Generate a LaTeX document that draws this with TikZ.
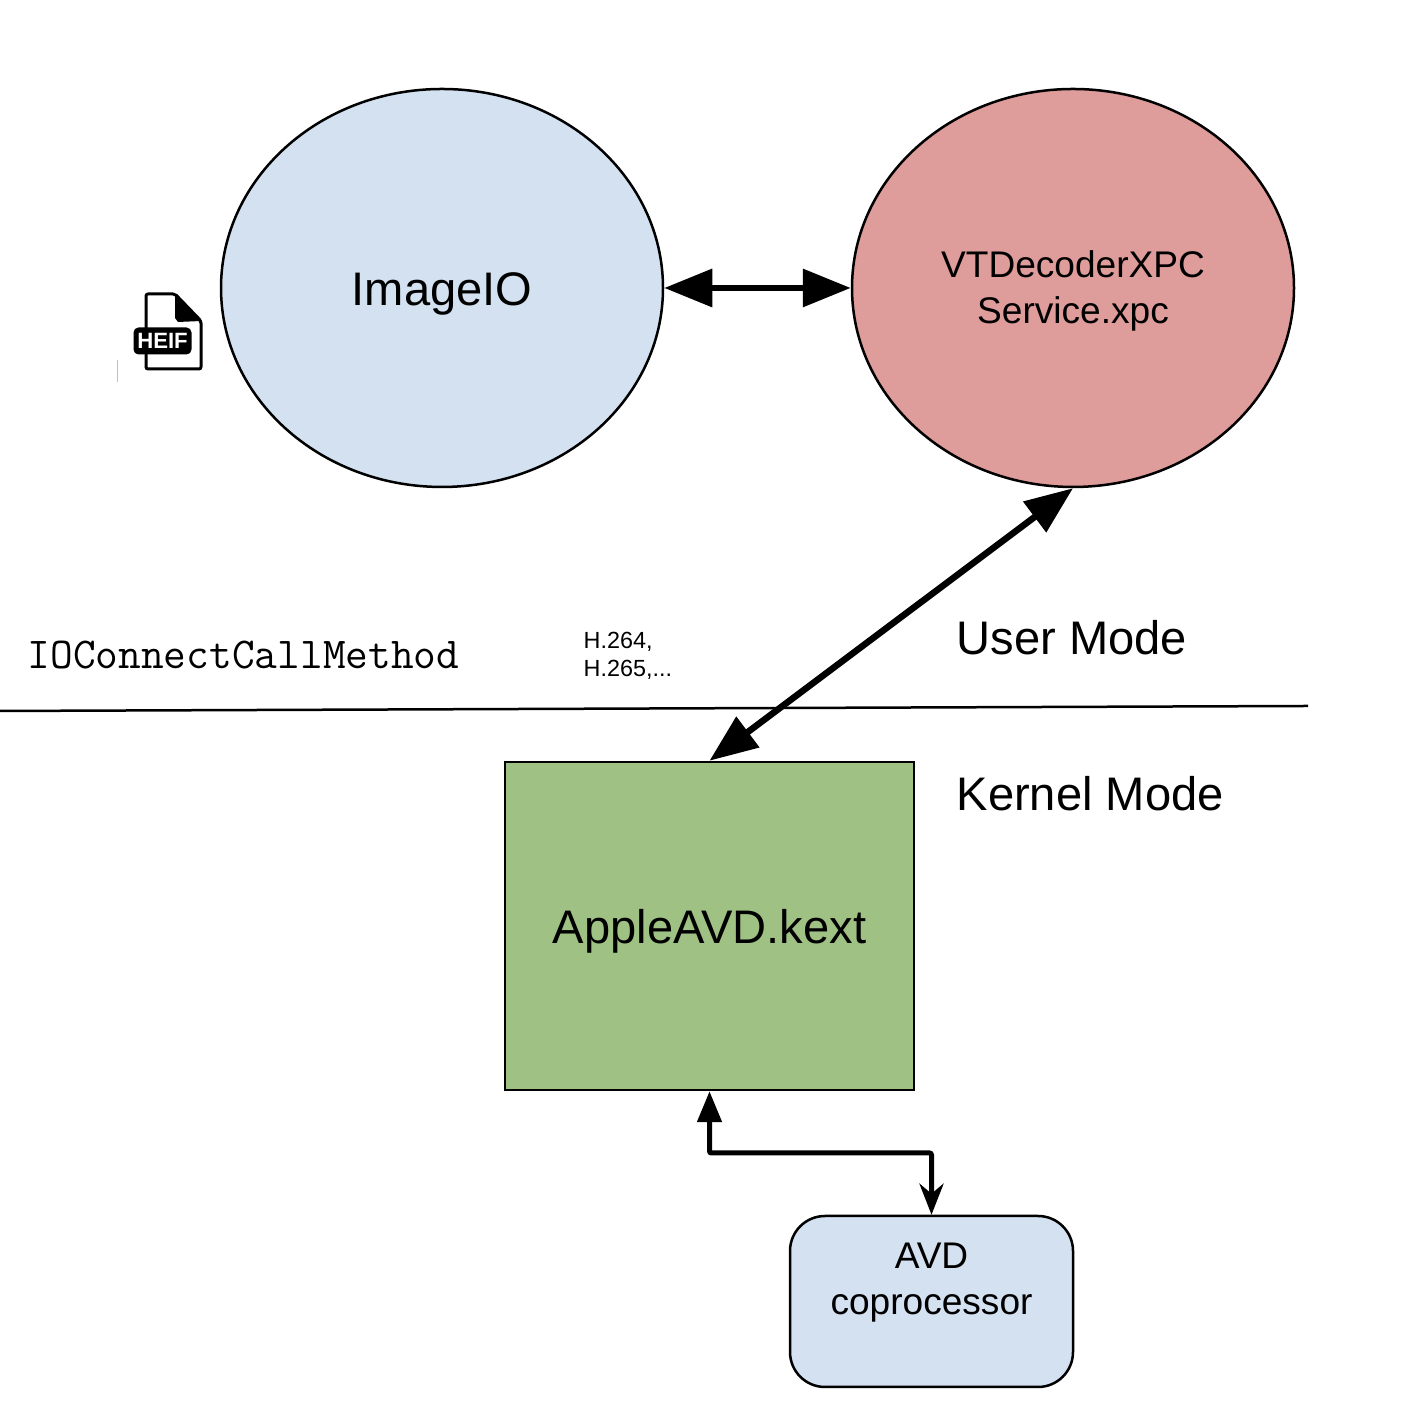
\documentclass[tikz,border=0pt]{standalone}
\usepackage{fontspec}
\setmainfont{Liberation Sans}
\usepackage{tikz}
\usetikzlibrary{positioning,arrows.meta,shapes.geometric,calc}
\usepackage{xcolor}
\definecolor{procblue}{HTML}{D3E1F0}
\definecolor{procred}{HTML}{DE9C9A}
\definecolor{kextgreen}{HTML}{9FC284}

\begin{document}
\begin{tikzpicture}[
    proc/.style={ellipse, draw=black, line width=0.025cm, minimum width=4.42cm,
                 minimum height=3.98cm, inner sep=0pt, align=center},
    bigtext/.style={font=\fontsize{13.4}{16.5}\selectfont, text height=0.35cm, text depth=0cm},
    midtext/.style={font=\fontsize{10.55}{13.1}\selectfont, align=center},
    modelabel/.style={bigtext, anchor=west, inner sep=0pt},
    bigarrow/.style={line width=0.065cm, {Triangle[length=0.48cm,width=0.37cm]}-{Triangle[length=0.48cm,width=0.37cm]}}
]
\useasboundingbox (0,0) rectangle (14.26,14.18);

% ============================
% User mode
% ============================
\node[proc, fill=procblue, bigtext] (imageio) at (4.42, 11.30) {ImageIO};
\node[proc, fill=procred, midtext] (vtdecoder) at (10.73, 11.30) {\rule{0pt}{0.33cm}VTDecoderXPC\\Service.xpc};
\draw[bigarrow] (imageio.east) -- (vtdecoder.west);

\node[modelabel] (usermode) at (9.56, 7.81) {User Mode};
\node[inner sep=0pt, anchor=west, font=\fontsize{12.55}{15}\selectfont\ttfamily] (ioconnect) at (0.27, 7.63) {IOConnectCallMethod};
\node[inner sep=0pt, anchor=west, align=left, font=\fontsize{6.65}{8}\selectfont] (codecs) at (5.83, 7.625) {H.264,\\H.265,...};

% ============================
% Mode border
% ============================
\coordinate (borderleft) at (0, 7.07);
\coordinate (borderright) at (13.08, 7.12);
\draw[line width=0.025cm] (borderleft) -- (borderright);

% ============================
% Kernel mode
% ============================
\node[modelabel] (kernelmode) at (9.56, 6.25) {Kernel Mode};
\node[rectangle, draw=black, line width=0.025cm, fill=kextgreen, bigtext,
      minimum width=4.09cm, minimum height=3.28cm, inner sep=0pt] (kext) at (7.095, 4.92) {AppleAVD.kext};
\draw[bigarrow] (vtdecoder.south) -- (kext.north);

\node[rectangle, rounded corners=0.35cm, draw=black, line width=0.025cm, fill=procblue, midtext,
      minimum width=2.83cm, minimum height=1.71cm, inner sep=0pt] (copro) at (9.315, 1.165) {AVD\\coprocessor\\\mbox{}};
\coordinate (elbow) at (8, 2.65);
\draw[line width=0.05cm, rounded corners=0.02cm, {Triangle[length=0.31cm,width=0.24cm]}-{Stealth[length=0.31cm,width=0.24cm,inset=0.1cm]}]
    (kext.south) -- (kext.south |- elbow) -- (copro.north |- elbow) -- (copro.north);

% ============================
% HEIF file icon
% ============================
\draw[line width=0.03cm, line join=round, rounded corners=0.02cm] (1.46, 11.24) -- (1.75, 11.24) -- (2.01, 10.97) -- (2.01, 10.49) -- (1.46, 10.49) -- cycle;
\fill[line join=round] (1.75, 11.24) -- (2.02, 10.97) -- (1.78, 10.96) -- (1.75, 11.00) -- cycle;
\node[rectangle, rounded corners=0.05cm, fill=black, text=white, inner sep=0pt,
      minimum width=0.58cm, minimum height=0.27cm, font=\fontsize{6.3}{7}\selectfont\bfseries] (heif) at (1.625, 10.77) {HEIF};
\draw[line width=0.01cm, black!25] (1.17, 10.58) -- (1.17, 10.36);

\end{tikzpicture}
\end{document}
